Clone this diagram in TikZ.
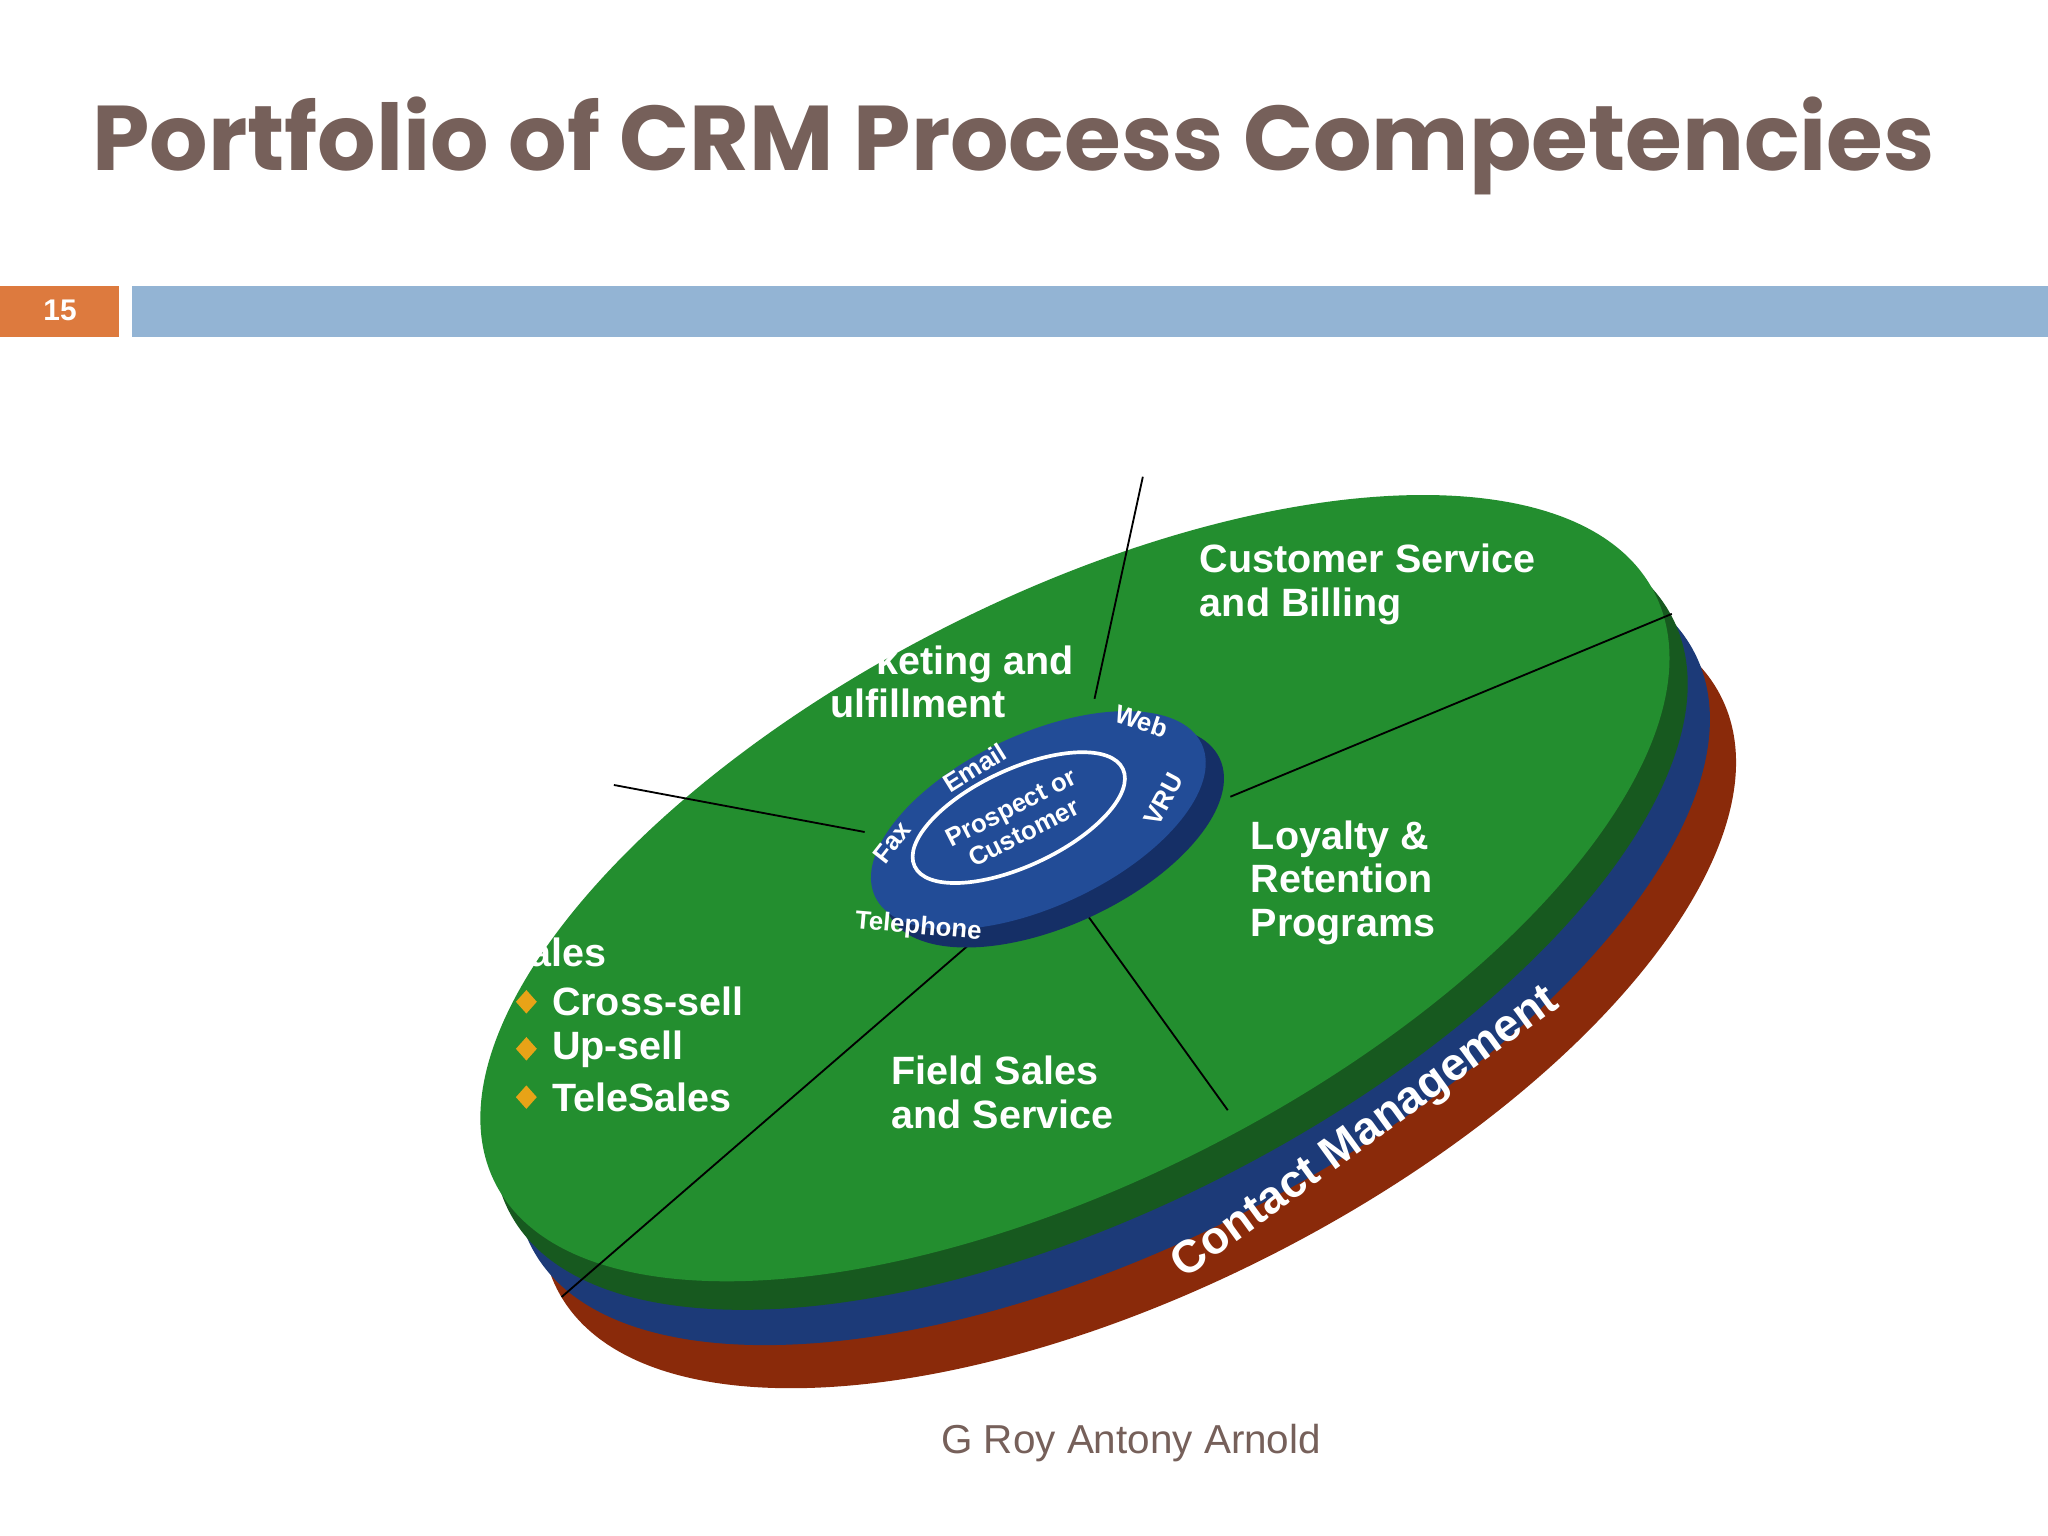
\documentclass[tikz,border=0pt]{standalone}
\usepackage{fontspec}
\setmainfont{Liberation Sans}
\newfontfamily\titlefont{Poppins}
\begin{document}
\begin{tikzpicture}[x=0.01cm,y=-0.01cm,
  lbl/.style={text=white,font=\bfseries\fontsize{8.6}{9.4}\selectfont,align=left,anchor=north west,inner sep=0},
  sm/.style={text=white,font=\bfseries\fontsize{5.6}{6.2}\selectfont,inner sep=0},
  spoke/.style={black,line width=0.4pt}]
\definecolor{brn}{HTML}{76605A}
\definecolor{gtop}{HTML}{238E2F}
\definecolor{gside}{HTML}{17591F}
\definecolor{bside}{HTML}{1C3A78}
\definecolor{rside}{HTML}{8A2A0A}
\definecolor{itop}{HTML}{224C97}
\definecolor{iside}{HTML}{152F66}
\definecolor{orbox}{HTML}{DD7A3E}
\definecolor{bluebar}{HTML}{93B4D4}
\definecolor{dia}{HTML}{E8A317}
\useasboundingbox (0,0) rectangle (1568,1176);
\fill[white] (0,0) rectangle (1568,1176);
\node[text=brn,inner sep=0] (title) at (776,112) {\resizebox{14.1cm}{!}{\titlefont\bfseries Portfolio of CRM Process Competencies}};
\fill[orbox] (0,219) rectangle (91,258);
\node[text=white,font=\bfseries\fontsize{6.5}{7}\selectfont] (num) at (46,238) {15};
\fill[bluebar] (101,219) rectangle (1568,258);
% disk layers
\fill[rside] (872,760) ellipse [x radius=500,y radius=225,rotate=27];
\begin{scope}
\clip (872,760) ellipse [x radius=500,y radius=225,rotate=27];
\node[text=white,font=\bfseries\fontsize{10}{11}\selectfont,rotate=34] (ti) at (1080,918) {Technical Infrastructure};
\end{scope}
\fill[bside] (852,727) ellipse [x radius=500,y radius=225,rotate=27];
\fill[gside] (835,700) ellipse [x radius=500,y radius=225,rotate=27];
\fill[gtop] (823,680) ellipse [x radius=498,y radius=223,rotate=27];
\node[text=white,font=\bfseries\fontsize{10}{11}\selectfont,rotate=36] (cm) at (1046,868) {Contact Management};
% spokes
\coordinate (s1a) at (875,365); \coordinate (s1b) at (838,535);
\coordinate (s2a) at (1280,470); \coordinate (s2b) at (942,610);
\coordinate (s3a) at (470,601); \coordinate (s3b) at (662,637);
\coordinate (s4a) at (430,993); \coordinate (s4b) at (748,718);
\coordinate (s5a) at (832,700); \coordinate (s5b) at (940,850);
\draw[spoke] (s1a)--(s1b); \draw[spoke] (s2a)--(s2b); \draw[spoke] (s3a)--(s3b);
\draw[spoke] (s4a)--(s4b); \draw[spoke] (s5a)--(s5b);
% inner disk
\fill[iside] (807,640) ellipse [x radius=140,y radius=68,rotate=25];
\fill[itop] (795,628) ellipse [x radius=138,y radius=66,rotate=25];
\draw[white,line width=0.8pt] (780,626) ellipse [x radius=88,y radius=37,rotate=25];
\node[sm,rotate=-18] (web) at (874,552) {Web};
\node[sm,rotate=32] (email) at (746,588) {Email};
\node[sm,rotate=62] (vru) at (891,612) {VRU};
\node[sm,rotate=52] (fax) at (683,645) {Fax};
\node[sm,rotate=-5] (tel) at (703,710) {Telephone};
\node[sm,rotate=27,align=center] (pc) at (779,628) {Prospect or\\Customer};
% labels
\node[lbl] (csb) at (918,416) {Customer Service\\and Billing};
\node[lbl,anchor=north east] (mkt) at (823,494) {keting and};
\node[lbl,anchor=north east] (ful) at (771,527) {ulfillment};
\node[lbl] (loy) at (957,628) {Loyalty \&\\Retention\\Programs};
\node[lbl] (fss) at (682,808) {Field Sales\\and Service};
\node[lbl] (sal) at (405,717) {ales};
\foreach \yy/\txt in {767/Cross-sell,803/Up-sell,840/TeleSales}{
  \fill[dia] (403,\yy-9) -- (411,\yy) -- (403,\yy+9) -- (395,\yy) -- cycle;
  \node[lbl,anchor=west] at (422,\yy) {\txt};}
\node[text=brn,font=\fontsize{8.8}{10}\selectfont] (ft) at (866,1105) {G Roy Antony Arnold};
\end{tikzpicture}
\end{document}
